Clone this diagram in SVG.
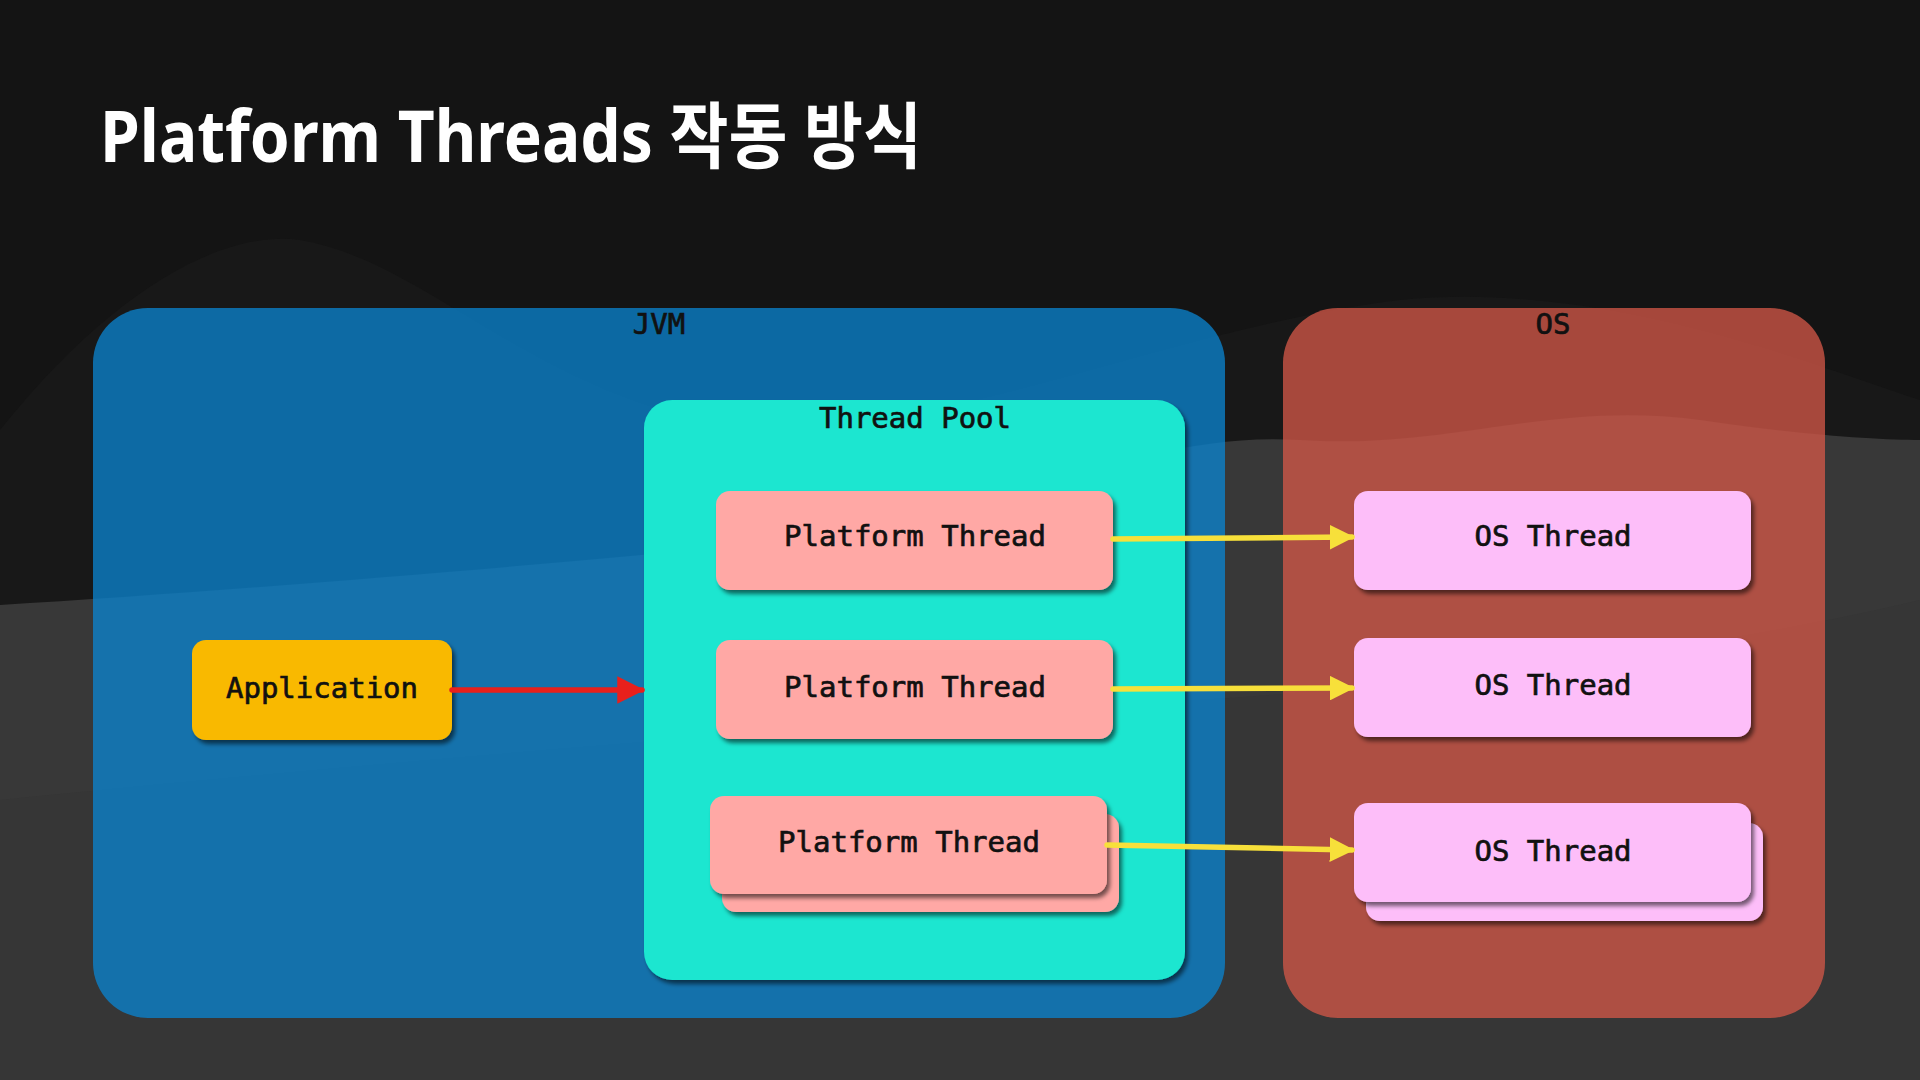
<svg xmlns="http://www.w3.org/2000/svg" width="1920" height="1080" viewBox="0 0 1920 1080">
<defs>
<style>
.lbl{font-family:"DejaVu Sans Mono","Liberation Mono",monospace;font-size:29px;fill:#111;stroke:#111;stroke-width:0.7;text-anchor:middle}
.title{font-family:"Noto Sans","Noto Sans CJK KR",sans-serif;font-weight:700;font-size:72px;fill:#fff}
.pt{fill:#ffa8a5;filter:url(#sh)}
.ost{fill:#fdbef9;filter:url(#sh)}
.node{filter:url(#sh)}
.conn{fill:none;stroke-width:5.5;stroke-linecap:round}
</style>
<filter id="sh" x="-10%" y="-20%" width="125%" height="150%">
<feDropShadow dx="3" dy="4" stdDeviation="2" flood-color="#000" flood-opacity="0.55"/>
</filter>
<marker id="ay" viewBox="0 0 10 10" refX="9" refY="5" markerWidth="4.5" markerHeight="4.5" orient="auto" markerUnits="strokeWidth">
<path d="M0,0 L10,5 L0,10 Z" fill="#f7e03a"/>
</marker>
<marker id="ar" viewBox="0 0 10 10" refX="9" refY="5" markerWidth="5" markerHeight="5" orient="auto" markerUnits="strokeWidth">
<path d="M0,0 L10,5 L0,10 Z" fill="#e8201c"/>
</marker>
</defs>
<rect width="1920" height="1080" fill="#141414"/>
<path d="M0,430 C120,280 230,230 300,240 C420,260 520,380 700,420 C900,460 1150,330 1400,300 C1600,280 1800,360 1920,400 L1920,1080 L0,1080 Z" fill="#181818"/>
<path d="M0,605 C250,590 600,560 800,540 C1000,510 1150,430 1300,440 C1450,450 1550,400 1700,420 C1800,435 1880,440 1920,440 L1920,1080 L0,1080 Z" fill="#383838"/>
<path d="M0,800 C400,760 900,720 1200,700 C1500,680 1750,640 1920,600 L1920,1080 L0,1080 Z" fill="#333" opacity="0.5"/>
<text class="title" x="100" y="162" textLength="822" lengthAdjust="spacingAndGlyphs">Platform Threads 작동 방식</text>
<g id="jvm">
<rect x="93" y="308" width="1132" height="710" rx="55" fill="#0b83cf" fill-opacity="0.77"/>
<text class="lbl" x="659" y="334">JVM</text>
</g>
<g id="os">
<rect x="1283" y="308" width="542" height="710" rx="55" fill="#d35747" fill-opacity="0.77"/>
<text class="lbl" x="1553" y="334">OS</text>
</g>
<g id="thread-pool">
<rect x="644" y="400" width="541" height="580" rx="28" fill="#1ae6d0" class="node"/>
<text class="lbl" x="915" y="428">Thread Pool</text>
</g>
<g id="application">
<rect x="192" y="640" width="260" height="100" rx="14" fill="#f9b902" class="node"/>
<text class="lbl" x="322" y="698">Application</text>
</g>
<g id="platform-thread-1">
<rect x="716" y="491" width="397" height="99" rx="14" class="pt"/>
<text class="lbl" x="915" y="546">Platform Thread</text>
</g>
<g id="platform-thread-2">
<rect x="716" y="640" width="397" height="99" rx="14" class="pt"/>
<text class="lbl" x="915" y="697">Platform Thread</text>
</g>
<g id="platform-thread-3">
<rect x="722" y="814" width="397" height="98" rx="14" class="pt"/>
<rect x="710" y="796" width="397" height="98" rx="14" class="pt"/>
<text class="lbl" x="909" y="852">Platform Thread</text>
</g>
<g id="os-thread-1">
<rect x="1354" y="491" width="397" height="99" rx="14" class="ost"/>
<text class="lbl" x="1553" y="546">OS Thread</text>
</g>
<g id="os-thread-2">
<rect x="1354" y="638" width="397" height="99" rx="14" class="ost"/>
<text class="lbl" x="1553" y="695">OS Thread</text>
</g>
<g id="os-thread-3">
<rect x="1366" y="823" width="397" height="98" rx="14" class="ost"/>
<rect x="1354" y="803" width="397" height="99" rx="14" class="ost"/>
<text class="lbl" x="1553" y="861">OS Thread</text>
</g>
<g id="connectors">
<path class="conn" d="M452,690 L642,690" stroke="#e8201c" stroke-width="4.5" marker-end="url(#ar)"/>
<path class="conn" d="M1113,539 L1352,537" stroke="#f7e03a" marker-end="url(#ay)"/>
<path class="conn" d="M1113,689 L1352,688" stroke="#f7e03a" marker-end="url(#ay)"/>
<path class="conn" d="M1107,845 L1352,850" stroke="#f7e03a" marker-end="url(#ay)"/>
</g>
</svg>
